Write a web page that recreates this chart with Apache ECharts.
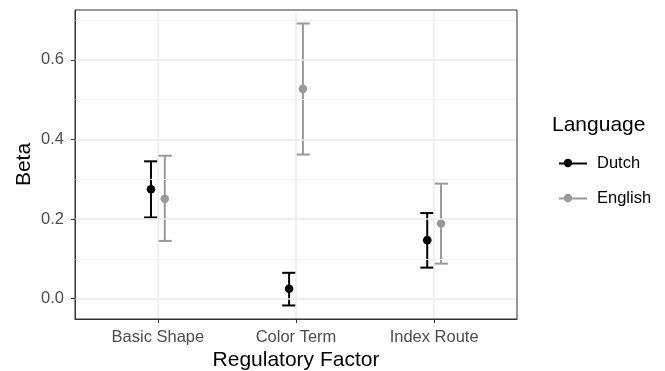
<!DOCTYPE html>
<html><head><meta charset="utf-8">
<script src="https://cdn.jsdelivr.net/npm/echarts@6/dist/echarts.min.js"></script>
<style>html,body{margin:0;padding:0;background:#fff}#c{width:665px;height:371px}</style>
</head><body><div id="c"></div>
<script>
const categories = ['Basic Shape', 'Color Term', 'Index Route'];
const languages = ['Dutch', 'English'];
const dutchMean = [0.275, 0.025, 0.147];
const dutchLow  = [0.204, -0.017, 0.078];
const dutchHigh = [0.345, 0.065, 0.215];
const englishMean = [0.251, 0.527, 0.189];
const englishLow  = [0.145, 0.362, 0.088];
const englishHigh = [0.359, 0.691, 0.289];
const yTicks = [0, 0.2, 0.4, 0.6];
const yMinor = [0.1, 0.3, 0.5, 0.7];

const dodge = 0.05;
const capHalf = 0.05;
const colors = {Dutch: '#000000', English: '#999999'};
const catPos = categories.map((c, i) => i + 1);
const FONT = 'Liberation Sans, Arial, sans-serif';

function makeData(mean, low, high, off) {
  return catPos.map((p, i) => [p + off, mean[i], low[i], high[i]]);
}
const seriesData = {
  Dutch: makeData(dutchMean, dutchLow, dutchHigh, -dodge),
  English: makeData(englishMean, englishLow, englishHigh, dodge)
};

const chart = echarts.init(document.getElementById('c'), null, {renderer: 'canvas'});
const series = [];
series.push({
  type: 'line', data: [], silent: true, name: '_grid',
  markLine: {
    silent: true, symbol: 'none', animation: false, label: {show: false},
    data: [
      ...yMinor.map(v => ({yAxis: v, lineStyle: {color: '#f2f2f2', width: 1, type: 'solid'}})),
      ...yTicks.map(v => ({yAxis: v, lineStyle: {color: '#ebebeb', width: 1.5, type: 'solid'}})),
      ...catPos.map(v => ({xAxis: v, lineStyle: {color: '#ebebeb', width: 1.5, type: 'solid'}}))
    ]
  }
});
languages.forEach(lang => {
  const col = colors[lang];
  series.push({
    name: lang, type: 'custom', z: 3,
    itemStyle: {color: col},
    data: seriesData[lang],
    renderItem: function (params, api) {
      const x = api.value(0);
      const top = api.coord([x, api.value(3)]);
      const bot = api.coord([x, api.value(2)]);
      const ctr = api.coord([x, api.value(1)]);
      const l = api.coord([x - capHalf, api.value(3)])[0];
      const r = api.coord([x + capHalf, api.value(3)])[0];
      const st = {stroke: col, lineWidth: 2};
      return {type: 'group', children: [
        {type: 'line', shape: {x1: top[0], y1: top[1], x2: bot[0], y2: bot[1]}, style: st},
        {type: 'line', shape: {x1: l, y1: top[1], x2: r, y2: top[1]}, style: st},
        {type: 'line', shape: {x1: l, y1: bot[1], x2: r, y2: bot[1]}, style: st},
        {type: 'circle', shape: {cx: ctr[0], cy: ctr[1], r: 4.3}, style: {fill: col}}
      ]};
    },
    encode: {x: 0, y: [1, 2, 3]}
  });
});

chart.setOption({
  animation: false,
  textStyle: {fontFamily: FONT},
  grid: {left: 75, right: 148, top: 10, bottom: 52, containLabel: false, outerBoundsMode: 'none'},
  xAxis: {
    type: 'value', min: 0.4, max: 3.6,
    name: 'Regulatory Factor', nameLocation: 'middle', nameGap: 31, nameMoveOverlap: false,
    nameTextStyle: {fontSize: 21, color: '#000'},
    axisLine: {show: true, onZero: false, lineStyle: {color: '#333333', width: 1}},
    axisTick: {show: true, customValues: catPos, length: 4, lineStyle: {color: '#333333'}},
    axisLabel: {customValues: catPos, formatter: v => categories[Math.round(v) - 1] || '', color: '#4d4d4d', fontSize: 16.5, margin: 10},
    splitLine: {show: false}
  },
  yAxis: {
    type: 'value', min: -0.051, max: 0.725,
    name: 'Beta', nameLocation: 'middle', nameGap: 40, nameMoveOverlap: false,
    nameTextStyle: {fontSize: 21, color: '#000'},
    axisLine: {show: true, onZero: false, lineStyle: {color: '#333333', width: 1}},
    axisTick: {show: true, customValues: yTicks, length: 4, lineStyle: {color: '#333333'}},
    axisLabel: {customValues: yTicks, formatter: v => v.toFixed(1), color: '#4d4d4d', fontSize: 16.5, margin: 11},
    splitLine: {show: false}
  },
  legend: {
    data: languages.map(l => ({name: l, icon: 'rect', itemStyle: {color: colors[l]}})),
    orient: 'vertical', left: 554, top: 150, itemGap: 18,
    itemWidth: 28, itemHeight: 2,
    textStyle: {fontSize: 16.5, lineHeight: 17, color: '#000', padding: [0, 0, 0, 5]},
    selectedMode: false
  },
  graphic: [
    {type: 'rect', shape: {x: 75, y: 10, width: 442, height: 309}, style: {fill: 'none', stroke: '#333333', lineWidth: 1}, z: 100},
    {type: 'text', left: 552, top: 115, style: {text: 'Language', fontSize: 21, fill: '#000', fontFamily: FONT}},
    ...languages.map((l, i) => ({type: 'circle', shape: {cx: 568, cy: 163 + i * 35, r: 4.2}, style: {fill: colors[l]}, z: 110}))
  ],
  series: series
});
</script></body></html>
